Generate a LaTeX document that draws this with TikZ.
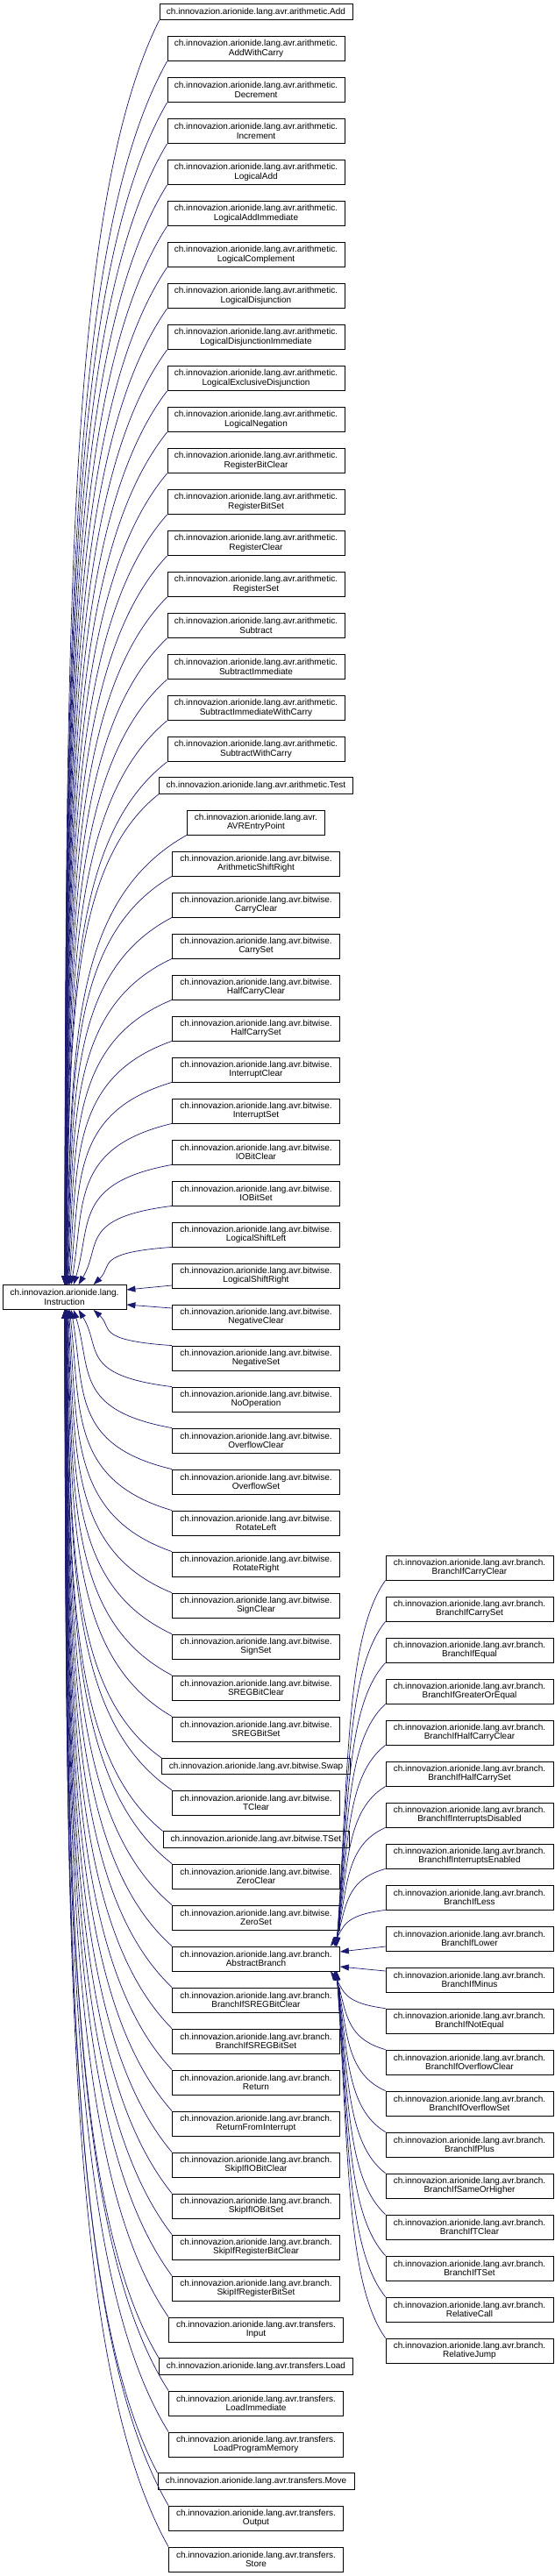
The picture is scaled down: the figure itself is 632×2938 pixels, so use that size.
\documentclass[tikz,border=0pt]{standalone}
\usepackage{fontspec}
\setmainfont{Liberation Sans}
\usetikzlibrary{arrows.meta,calc}
\definecolor{inhblue}{HTML}{191970}

\begin{document}
\begin{tikzpicture}[x=1pt,y=-1pt,
  cls/.style={draw=black,line width=0.8pt,fill=white,align=center,inner sep=0pt,
    minimum width=#1,minimum height=28,font=\fontsize{10}{10.5}\selectfont},
  cls1/.style={cls=#1,minimum height=18.5},
  inh/.style={draw=inhblue,line width=0.7pt,{Triangle[length=10pt,width=7pt]}-}]
  \useasboundingbox (0,0) rectangle (632,2938);

  % Base class
  \node[cls=141] (inst) at (73.5,1479.5) {ch.innovazion.arionide.lang.\\Instruction};

  % arithmetic
  \node[cls1=220] (add) at (292,13.5) {ch.innovazion.arionide.lang.avr.arithmetic.Add};
  \node[cls=202] (addWithCarry) at (292,55.5) {ch.innovazion.arionide.lang.avr.arithmetic.\\AddWithCarry};
  \node[cls=202] (decrement) at (292,102.5) {ch.innovazion.arionide.lang.avr.arithmetic.\\Decrement};
  \node[cls=202] (increment) at (292,149.5) {ch.innovazion.arionide.lang.avr.arithmetic.\\Increment};
  \node[cls=202] (logicalAdd) at (292,196.5) {ch.innovazion.arionide.lang.avr.arithmetic.\\LogicalAdd};
  \node[cls=202] (logicalAddImm) at (292,243.5) {ch.innovazion.arionide.lang.avr.arithmetic.\\LogicalAddImmediate};
  \node[cls=202] (logicalCompl) at (292,290.5) {ch.innovazion.arionide.lang.avr.arithmetic.\\LogicalComplement};
  \node[cls=202] (logicalDisj) at (292,337.5) {ch.innovazion.arionide.lang.avr.arithmetic.\\LogicalDisjunction};
  \node[cls=202] (logicalDisjImm) at (292,384.5) {ch.innovazion.arionide.lang.avr.arithmetic.\\LogicalDisjunctionImmediate};
  \node[cls=202] (logicalXDisj) at (292,431.5) {ch.innovazion.arionide.lang.avr.arithmetic.\\LogicalExclusiveDisjunction};
  \node[cls=202] (logicalNeg) at (292,478.5) {ch.innovazion.arionide.lang.avr.arithmetic.\\LogicalNegation};
  \node[cls=202] (regBitClear) at (292,525.5) {ch.innovazion.arionide.lang.avr.arithmetic.\\RegisterBitClear};
  \node[cls=202] (regBitSet) at (292,572.5) {ch.innovazion.arionide.lang.avr.arithmetic.\\RegisterBitSet};
  \node[cls=202] (regClear) at (292,619.5) {ch.innovazion.arionide.lang.avr.arithmetic.\\RegisterClear};
  \node[cls=202] (regSet) at (292,666.5) {ch.innovazion.arionide.lang.avr.arithmetic.\\RegisterSet};
  \node[cls=202] (subtract) at (292,713.5) {ch.innovazion.arionide.lang.avr.arithmetic.\\Subtract};
  \node[cls=202] (subtractImm) at (292,760.5) {ch.innovazion.arionide.lang.avr.arithmetic.\\SubtractImmediate};
  \node[cls=202] (subtractImmWC) at (292,807.5) {ch.innovazion.arionide.lang.avr.arithmetic.\\SubtractImmediateWithCarry};
  \node[cls=202] (subtractWC) at (292,854.5) {ch.innovazion.arionide.lang.avr.arithmetic.\\SubtractWithCarry};
  \node[cls1=221] (test) at (292,896) {ch.innovazion.arionide.lang.avr.arithmetic.Test};
  \node[cls=157] (avrEntry) at (292,938) {ch.innovazion.arionide.lang.avr.\\AVREntryPoint};

  % bitwise
  \node[cls=191] (asr) at (292,985) {ch.innovazion.arionide.lang.avr.bitwise.\\ArithmeticShiftRight};
  \node[cls=191] (carryClear) at (292,1032) {ch.innovazion.arionide.lang.avr.bitwise.\\CarryClear};
  \node[cls=191] (carrySet) at (292,1079) {ch.innovazion.arionide.lang.avr.bitwise.\\CarrySet};
  \node[cls=191] (halfCarryClear) at (292,1126) {ch.innovazion.arionide.lang.avr.bitwise.\\HalfCarryClear};
  \node[cls=191] (halfCarrySet) at (292,1173) {ch.innovazion.arionide.lang.avr.bitwise.\\HalfCarrySet};
  \node[cls=191] (intClear) at (292,1220) {ch.innovazion.arionide.lang.avr.bitwise.\\InterruptClear};
  \node[cls=191] (intSet) at (292,1267) {ch.innovazion.arionide.lang.avr.bitwise.\\InterruptSet};
  \node[cls=191] (ioBitClear) at (292,1314) {ch.innovazion.arionide.lang.avr.bitwise.\\IOBitClear};
  \node[cls=191] (ioBitSet) at (292,1361) {ch.innovazion.arionide.lang.avr.bitwise.\\IOBitSet};
  \node[cls=191] (lsl) at (292,1408) {ch.innovazion.arionide.lang.avr.bitwise.\\LogicalShiftLeft};
  \node[cls=191] (lsr) at (292,1455) {ch.innovazion.arionide.lang.avr.bitwise.\\LogicalShiftRight};
  \node[cls=191] (negClear) at (292,1502) {ch.innovazion.arionide.lang.avr.bitwise.\\NegativeClear};
  \node[cls=191] (negSet) at (292,1549) {ch.innovazion.arionide.lang.avr.bitwise.\\NegativeSet};
  \node[cls=191] (noOp) at (292,1596) {ch.innovazion.arionide.lang.avr.bitwise.\\NoOperation};
  \node[cls=191] (ovfClear) at (292,1643) {ch.innovazion.arionide.lang.avr.bitwise.\\OverflowClear};
  \node[cls=191] (ovfSet) at (292,1690) {ch.innovazion.arionide.lang.avr.bitwise.\\OverflowSet};
  \node[cls=191] (rotLeft) at (292,1737) {ch.innovazion.arionide.lang.avr.bitwise.\\RotateLeft};
  \node[cls=191] (rotRight) at (292,1784) {ch.innovazion.arionide.lang.avr.bitwise.\\RotateRight};
  \node[cls=191] (signClear) at (292,1831) {ch.innovazion.arionide.lang.avr.bitwise.\\SignClear};
  \node[cls=191] (signSet) at (292,1878) {ch.innovazion.arionide.lang.avr.bitwise.\\SignSet};
  \node[cls=191] (sregBitClear) at (292,1925) {ch.innovazion.arionide.lang.avr.bitwise.\\SREGBitClear};
  \node[cls=191] (sregBitSet) at (292,1972) {ch.innovazion.arionide.lang.avr.bitwise.\\SREGBitSet};
  \node[cls1=215] (swap) at (292,2014.5) {ch.innovazion.arionide.lang.avr.bitwise.Swap};
  \node[cls=191] (tClear) at (292,2056) {ch.innovazion.arionide.lang.avr.bitwise.\\TClear};
  \node[cls1=212] (tSet) at (292,2098) {ch.innovazion.arionide.lang.avr.bitwise.TSet};
  \node[cls=191] (zeroClear) at (292,2140) {ch.innovazion.arionide.lang.avr.bitwise.\\ZeroClear};
  \node[cls=191] (zeroSet) at (292,2187) {ch.innovazion.arionide.lang.avr.bitwise.\\ZeroSet};

  % branch
  \node[cls=191] (absBranch) at (292,2234) {ch.innovazion.arionide.lang.avr.branch.\\AbstractBranch};
  \node[cls=191] (brSregClear) at (292,2281) {ch.innovazion.arionide.lang.avr.branch.\\BranchIfSREGBitClear};
  \node[cls=191] (brSregSet) at (292,2328) {ch.innovazion.arionide.lang.avr.branch.\\BranchIfSREGBitSet};
  \node[cls=191] (ret) at (292,2375) {ch.innovazion.arionide.lang.avr.branch.\\Return};
  \node[cls=191] (reti) at (292,2422) {ch.innovazion.arionide.lang.avr.branch.\\ReturnFromInterrupt};
  \node[cls=191] (skipIoClear) at (292,2469) {ch.innovazion.arionide.lang.avr.branch.\\SkipIfIOBitClear};
  \node[cls=191] (skipIoSet) at (292,2516) {ch.innovazion.arionide.lang.avr.branch.\\SkipIfIOBitSet};
  \node[cls=191] (skipRegClear) at (292,2563) {ch.innovazion.arionide.lang.avr.branch.\\SkipIfRegisterBitClear};
  \node[cls=191] (skipRegSet) at (292,2610) {ch.innovazion.arionide.lang.avr.branch.\\SkipIfRegisterBitSet};

  % transfers
  \node[cls=199] (input) at (292,2657) {ch.innovazion.arionide.lang.avr.transfers.\\Input};
  \node[cls1=221] (load) at (292,2699) {ch.innovazion.arionide.lang.avr.transfers.Load};
  \node[cls=199] (loadImm) at (292,2741) {ch.innovazion.arionide.lang.avr.transfers.\\LoadImmediate};
  \node[cls=199] (loadPm) at (292,2788) {ch.innovazion.arionide.lang.avr.transfers.\\LoadProgramMemory};
  \node[cls1=224] (move) at (292,2830) {ch.innovazion.arionide.lang.avr.transfers.Move};
  \node[cls=199] (output) at (292,2872) {ch.innovazion.arionide.lang.avr.transfers.\\Output};
  \node[cls=199] (store) at (292,2919) {ch.innovazion.arionide.lang.avr.transfers.\\Store};

  % subclasses of AbstractBranch
  \node[cls=191] (brCarryClear) at (535.5,1788) {ch.innovazion.arionide.lang.avr.branch.\\BranchIfCarryClear};
  \node[cls=191] (brCarrySet) at (535.5,1835) {ch.innovazion.arionide.lang.avr.branch.\\BranchIfCarrySet};
  \node[cls=191] (brEqual) at (535.5,1882) {ch.innovazion.arionide.lang.avr.branch.\\BranchIfEqual};
  \node[cls=191] (brGE) at (535.5,1929) {ch.innovazion.arionide.lang.avr.branch.\\BranchIfGreaterOrEqual};
  \node[cls=191] (brHalfClear) at (535.5,1976) {ch.innovazion.arionide.lang.avr.branch.\\BranchIfHalfCarryClear};
  \node[cls=191] (brHalfSet) at (535.5,2023) {ch.innovazion.arionide.lang.avr.branch.\\BranchIfHalfCarrySet};
  \node[cls=191] (brIntDis) at (535.5,2070) {ch.innovazion.arionide.lang.avr.branch.\\BranchIfInterruptsDisabled};
  \node[cls=191] (brIntEn) at (535.5,2117) {ch.innovazion.arionide.lang.avr.branch.\\BranchIfInterruptsEnabled};
  \node[cls=191] (brLess) at (535.5,2164) {ch.innovazion.arionide.lang.avr.branch.\\BranchIfLess};
  \node[cls=191] (brLower) at (535.5,2211) {ch.innovazion.arionide.lang.avr.branch.\\BranchIfLower};
  \node[cls=191] (brMinus) at (535.5,2258) {ch.innovazion.arionide.lang.avr.branch.\\BranchIfMinus};
  \node[cls=191] (brNotEqual) at (535.5,2305) {ch.innovazion.arionide.lang.avr.branch.\\BranchIfNotEqual};
  \node[cls=191] (brOvfClear) at (535.5,2352) {ch.innovazion.arionide.lang.avr.branch.\\BranchIfOverflowClear};
  \node[cls=191] (brOvfSet) at (535.5,2399) {ch.innovazion.arionide.lang.avr.branch.\\BranchIfOverflowSet};
  \node[cls=191] (brPlus) at (535.5,2446) {ch.innovazion.arionide.lang.avr.branch.\\BranchIfPlus};
  \node[cls=191] (brSameHigher) at (535.5,2493) {ch.innovazion.arionide.lang.avr.branch.\\BranchIfSameOrHigher};
  \node[cls=191] (brTClear) at (535.5,2540) {ch.innovazion.arionide.lang.avr.branch.\\BranchIfTClear};
  \node[cls=191] (brTSet) at (535.5,2587) {ch.innovazion.arionide.lang.avr.branch.\\BranchIfTSet};
  \node[cls=191] (relCall) at (535.5,2634) {ch.innovazion.arionide.lang.avr.branch.\\RelativeCall};
  \node[cls=191] (relJump) at (535.5,2681) {ch.innovazion.arionide.lang.avr.branch.\\RelativeJump};

  % edges to Instruction, nearest first
  \foreach \c [count=\k] in {lsl,ioBitSet,ioBitClear,intSet,intClear,halfCarrySet,halfCarryClear,
      carrySet,carryClear,asr,avrEntry,test,subtractWC,subtractImmWC,subtractImm,subtract,regSet,
      regClear,regBitSet,regBitClear,logicalNeg,logicalXDisj,logicalDisjImm,logicalDisj,logicalCompl,
      logicalAddImm,logicalAdd,increment,decrement,addWithCarry,add}
    \draw[inh] let \p1=(\c.south west), \p2=([xshift={70+34/\k}]inst.north west) in
      (\p2) .. controls +({0.25*(\x1-\x2)*min(1,100/abs(\y1-\y2))},{0.5*(\y1-\y2)})
        and +({\x2-\x1},{-0.15*(\y1-\y2)}) .. (\p1);
  \foreach \c [count=\k] in {negSet,noOp,ovfClear,ovfSet,rotLeft,rotRight,signClear,signSet,
      sregBitClear,sregBitSet,swap,tClear,tSet,zeroClear,zeroSet,absBranch,brSregClear,brSregSet,
      ret,reti,skipIoClear,skipIoSet,skipRegClear,skipRegSet,input,load,loadImm,loadPm,move,output,store}
    \draw[inh] let \p1=(\c.north west), \p2=([xshift={70+34/\k}]inst.south west) in
      (\p2) .. controls +({0.25*(\x1-\x2)*min(1,100/abs(\y1-\y2))},{0.5*(\y1-\y2)})
        and +({\x2-\x1},{-0.15*(\y1-\y2)}) .. (\p1);
  \draw[inh] ([yshift=8.5]inst.east) -- ([yshift=-11]lsr.west);
  \draw[inh] ([yshift=-8.5]inst.east) -- ([yshift=10]negClear.west);

  % edges to AbstractBranch
  \foreach \c [count=\k] in {brLess,brIntEn,brIntDis,brHalfSet,brHalfClear,brGE,brEqual,brCarrySet,brCarryClear}
    \draw[inh] let \p1=(\c.south west), \p2=([xshift={-3-8/\k}]absBranch.north east) in
      (\p2) .. controls +({0.25*(\x1-\x2)},{0.5*(\y1-\y2)})
        and +({0.8*(\x2-\x1)},{-0.15*(\y1-\y2)}) .. (\p1);
  \foreach \c [count=\k] in {brNotEqual,brOvfClear,brOvfSet,brPlus,brSameHigher,brTClear,brTSet,relCall,relJump}
    \draw[inh] let \p1=(\c.north west), \p2=([xshift={-3-8/\k}]absBranch.south east) in
      (\p2) .. controls +({0.25*(\x1-\x2)},{0.5*(\y1-\y2)})
        and +({0.8*(\x2-\x1)},{-0.15*(\y1-\y2)}) .. (\p1);
  \draw[inh] ([yshift=8]absBranch.east) -- ([yshift=-9]brLower.west);
  \draw[inh] ([yshift=-9]absBranch.east) -- ([yshift=10]brMinus.west);
\end{tikzpicture}
\end{document}
